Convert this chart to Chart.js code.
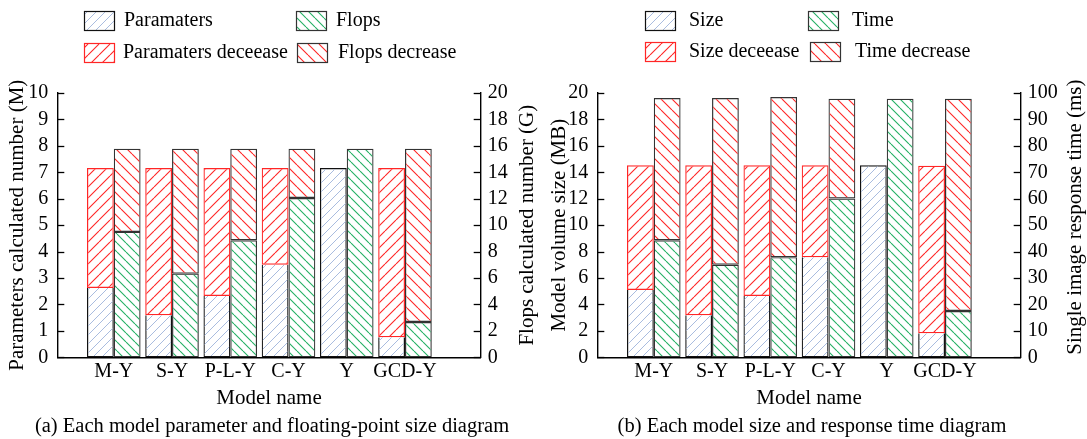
<!DOCTYPE html>
<html>
<head>
<meta charset="utf-8">
<script src="https://cdn.jsdelivr.net/npm/chart.js@4.4.1/dist/chart.umd.min.js"></script>
<style>
  html, body { margin: 0; padding: 0; background: #fff; }
  body { width: 1087px; height: 439px; position: relative; overflow: hidden; }
  canvas { position: absolute; top: 0; }
  #chartA { left: 0; }
  #chartB { left: 540px; }
</style>
</head>
<body>
<canvas id="chartA" width="540" height="439"></canvas>
<canvas id="chartB" width="547" height="439"></canvas>
<script>
// Model names along the x axis
const models = ['M-Y', 'S-Y', 'P-L-Y', 'C-Y', 'Y', 'GCD-Y'];

// (a) parameter count (M) and floating-point operations (G)
const params          = [2.62, 1.59, 2.32, 3.50, 7.16, 0.76];
const paramsDecrease  = [4.54, 5.57, 4.84, 3.66, 0,    6.40];
const flops           = [9.49, 6.33, 8.86, 12.05, 15.78, 2.67];
const flopsDecrease   = [6.29, 9.45, 6.92, 3.73,  0,     13.11];

// (b) model size (MB) and single image response time (ms)
const sizes           = [5.10, 3.18, 4.64, 7.58, 14.53, 1.82];
const sizesDecrease   = [9.43, 11.35, 9.89, 6.95, 0,    12.68];
const times           = [44.3, 35.0, 37.9, 60.1, 97.8, 17.5];
const timesDecrease   = [53.8, 63.1, 60.6, 37.7, 0,    80.3];

const SERIF = '"Liberation Serif", "Times New Roman", serif';
const BLUE = '#a9bcdf', RED = '#ff2626', GREEN = '#25b065';

// diagonal hatch fill: '/' rises to the right, '\' falls to the right
function hatch(color, dir, period, lw) {
  const c = document.createElement('canvas');
  c.width = c.height = period;
  const g = c.getContext('2d');
  g.strokeStyle = color;
  g.lineWidth = lw;
  g.beginPath();
  for (const o of [-period, 0, period]) {
    if (dir === '/') { g.moveTo(o, period); g.lineTo(o + period, 0); }
    else { g.moveTo(o, 0); g.lineTo(o + period, period); }
  }
  g.stroke();
  return g.createPattern(c, 'repeat');
}

const fills = {
  base: hatch(BLUE, '/', 9, 1),
  baseDec: hatch(RED, '/', 11, 1.1),
  second: hatch(GREEN, '\\', 9, 1.1),
  secondDec: hatch(RED, '\\', 11, 1.1)
};

const toPoints = arr => arr.map((v, i) => ({ x: i + 1, y: v }));

// inward tick marks on both value axes
const innerTicks = {
  id: 'innerTicks',
  afterDraw(chart) {
    const ctx = chart.ctx;
    ctx.save();
    ctx.strokeStyle = '#000';
    ctx.lineWidth = 1.3;
    for (const id of ['yL', 'yR']) {
      const s = chart.scales[id];
      const x0 = id === 'yL' ? s.right : s.left;
      const dx = id === 'yL' ? 7 : -7;
      s.ticks.forEach(t => {
        const y = Math.round(s.getPixelForValue(t.value)) + 0.5;
        ctx.beginPath();
        ctx.moveTo(x0, y);
        ctx.lineTo(x0 + dx, y);
        ctx.stroke();
      });
    }
    ctx.restore();
  }
};

// legend grid, right-axis title (read bottom to top) and caption
const decorations = {
  id: 'decorations',
  afterDraw(chart, args, opts) {
    const ctx = chart.ctx;
    ctx.save();
    ctx.font = '20px ' + SERIF;
    ctx.textBaseline = 'middle';
    ctx.textAlign = 'left';
    for (const it of opts.legend) {
      ctx.fillStyle = '#fff';
      ctx.fillRect(it.x, it.y, 30, 19);
      ctx.fillStyle = it.fill;
      ctx.fillRect(it.x, it.y, 30, 19);
      ctx.strokeStyle = it.border;
      ctx.lineWidth = 1.2;
      ctx.strokeRect(it.x + 0.5, it.y + 0.5, 30, 19);
      ctx.fillStyle = '#000';
      ctx.fillText(it.text, it.tx, it.y + 10);
    }
    const area = chart.chartArea;
    ctx.font = '21px ' + SERIF;
    ctx.textAlign = 'center';
    ctx.translate(opts.rightTitleX, (area.top + area.bottom) / 2 + opts.rightTitleShift);
    ctx.rotate(-Math.PI / 2);
    ctx.fillText(opts.rightTitle, 0, 0);
    ctx.setTransform(1, 0, 0, 1, 0, 0);
    ctx.font = '20.5px ' + SERIF;
    ctx.fillText(opts.caption, (area.left + area.right) / 2 + 3, 427);
    ctx.restore();
  }
};

function barSet(label, values, stack, axis, fill, border, skipped) {
  return {
    label, data: toPoints(values), stack, yAxisID: axis,
    backgroundColor: fill,
    borderColor: border,
    borderWidth: c => (c.raw && c.raw.y ? 1.2 : 0),
    borderSkipped: skipped || false
  };
}

function makeChart(id, cfg) {
  const canvasW = document.getElementById(id).width;
  const font = size => ({ family: SERIF, size });
  const border = { display: true, color: '#000', width: 1.4 };
  // the red outline of the reduction bar marks the boundary of the parameter/size bar
  const openTop = c => (cfg.baseDec[c.dataIndex] > 0 ? 'top' : false);
  return new Chart(document.getElementById(id), {
    type: 'bar',
    data: {
      datasets: [
        barSet(cfg.names[0], cfg.base, 'a', 'yL', fills.base, '#111', openTop),
        barSet(cfg.names[1], cfg.baseDec, 'a', 'yL', fills.baseDec, RED),
        barSet(cfg.names[2], cfg.second, 'b', 'yR', fills.second, '#333'),
        barSet(cfg.names[3], cfg.secondDec, 'b', 'yR', fills.secondDec, '#333')
      ]
    },
    options: {
      responsive: false,
      animation: false,
      devicePixelRatio: 1,
      layout: { padding: { top: 93, left: 0, right: 0, bottom: 0 } },
      datasets: { bar: { categoryPercentage: 0.92, barPercentage: 1.0 } },
      plugins: {
        legend: { display: false },
        tooltip: { enabled: false },
        decorations: cfg.decor
      },
      scales: {
        x: {
          type: 'linear',
          offset: false,
          min: 0.03, max: 7.3,
          grid: { display: false, drawTicks: false },
          border,
          afterBuildTicks: s => { s.ticks = models.map((_, i) => ({ value: i + 1 })); },
          afterFit: s => { s.height = 439 - 357.3; },
          ticks: {
            color: '#000', font: font(20), padding: 2, maxRotation: 0, autoSkip: false,
            callback: v => models[v - 1] || ''
          },
          title: { display: true, text: 'Model name', color: '#000', font: font(21), padding: { top: 0, bottom: 28 } }
        },
        yL: {
          type: 'linear', position: 'left', stacked: true,
          min: 0, max: cfg.leftMax,
          grid: { display: false, drawTicks: false },
          border,
          afterFit: s => { s.width = 57.3; },
          ticks: { color: '#000', font: font(20), padding: 9, stepSize: cfg.leftStep, autoSkip: false },
          title: { display: true, text: cfg.leftTitle, color: '#000', font: font(21), padding: { top: cfg.leftTitlePad, bottom: 0 } }
        },
        yR: {
          type: 'linear', position: 'right', stacked: true,
          min: 0, max: cfg.rightMax,
          grid: { display: false, drawTicks: false },
          border,
          afterFit: s => { s.width = canvasW - 480.7; },
          ticks: { color: '#000', font: font(20), padding: 7, stepSize: cfg.rightStep, autoSkip: false }
        }
      }
    },
    plugins: [innerTicks, decorations]
  });
}

makeChart('chartA', {
  names: ['Paramaters', 'Paramaters deceease', 'Flops', 'Flops decrease'],
  base: params, baseDec: paramsDecrease, second: flops, secondDec: flopsDecrease,
  leftMax: 10, leftStep: 1, rightMax: 20, rightStep: 2,
  leftTitle: 'Parameters calculated number (M)', leftTitlePad: 5,
  decor: {
    legend: [
      { x: 84, y: 11, text: 'Paramaters', tx: 124, fill: fills.base, border: '#111' },
      { x: 296, y: 11, text: 'Flops', tx: 336, fill: fills.second, border: '#333' },
      { x: 84, y: 43, text: 'Paramaters deceease', tx: 123, fill: fills.baseDec, border: RED },
      { x: 297, y: 43, text: 'Flops decrease', tx: 338, fill: fills.secondDec, border: '#333' }
    ],
    rightTitle: 'Flops calculated number (G)', rightTitleX: 527, rightTitleShift: 0,
    caption: '(a) Each model parameter and floating-point size diagram'
  }
});

makeChart('chartB', {
  names: ['Size', 'Size deceease', 'Time', 'Time decrease'],
  base: sizes, baseDec: sizesDecrease, second: times, secondDec: timesDecrease,
  leftMax: 20, leftStep: 2, rightMax: 100, rightStep: 10,
  leftTitle: 'Model volume size (MB)', leftTitlePad: 7,
  decor: {
    legend: [
      { x: 105, y: 11, text: 'Size', tx: 149, fill: fills.base, border: '#111' },
      { x: 268, y: 11, text: 'Time', tx: 312, fill: fills.second, border: '#333' },
      { x: 105, y: 42, text: 'Size deceease', tx: 149, fill: fills.baseDec, border: RED },
      { x: 270, y: 42, text: 'Time decrease', tx: 315, fill: fills.secondDec, border: '#333' }
    ],
    rightTitle: 'Single image response time (ms)', rightTitleX: 535, rightTitleShift: -8,
    caption: '(b) Each model size and response time diagram'
  }
});
</script>
</body>
</html>
